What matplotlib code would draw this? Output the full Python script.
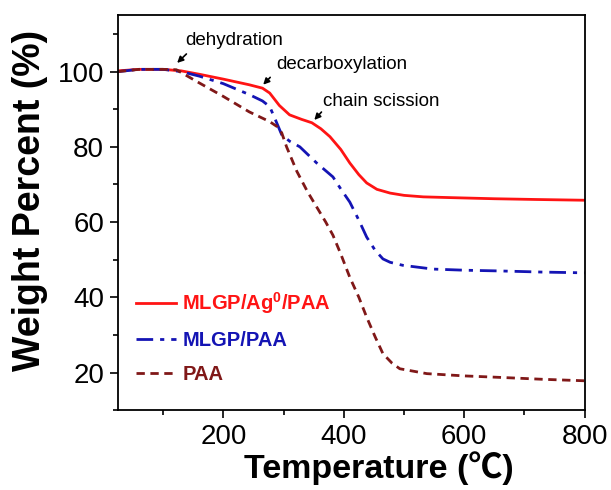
# TGA curves: weight percent vs temperature for three samples
import matplotlib.pyplot as plt
from matplotlib.ticker import MultipleLocator

plt.rcParams['font.family'] = ['Liberation Sans', 'Noto Sans CJK SC', 'DejaVu Sans']
plt.rcParams['mathtext.fontset'] = 'custom'
plt.rcParams['mathtext.rm'] = 'Liberation Sans'
plt.rcParams['mathtext.bf'] = 'Liberation Sans:bold'

# data
temp_ag = [25, 60, 100, 130, 160, 200, 243, 265, 277, 293, 310, 330, 347, 362, 377,
           395, 410, 425, 438, 455, 477, 500, 532, 577, 650, 720, 800]
wt_ag = [100.2, 100.6, 100.6, 100.2, 99.3, 98.0, 96.5, 95.6, 94.3, 91.0, 88.5, 87.3,
         86.4, 84.8, 82.7, 79.3, 75.7, 72.6, 70.4, 68.7, 67.7, 67.1, 66.7, 66.5, 66.2,
         66.0, 65.8]

temp_mlgp = [25, 60, 100, 130, 160, 200, 243, 265, 277, 287, 297, 310, 327, 355, 382,
             395, 410, 425, 438, 452, 465, 477, 498, 548, 600, 660, 730, 800]
wt_mlgp = [100.0, 100.6, 100.6, 100.0, 98.8, 96.8, 93.9, 92.2, 90.7, 87.0, 83.2, 81.5,
           80.0, 75.7, 72.0, 68.8, 65.3, 60.5, 56.0, 52.5, 50.2, 49.3, 48.5, 47.5, 47.2,
           47.0, 46.7, 46.5]

temp_paa = [25, 60, 100, 122, 160, 200, 243, 277, 290, 297, 305, 322, 340, 355, 370,
            382, 395, 410, 425, 438, 452, 465, 480, 493, 538, 600, 660, 730, 800]
wt_paa = [100.0, 100.6, 100.6, 100.5, 97.0, 93.4, 89.3, 86.7, 85.3, 83.7, 80.0, 73.5,
          68.0, 64.0, 60.0, 56.5, 51.5, 45.3, 40.0, 34.7, 29.5, 25.0, 22.5, 21.0, 19.7,
          19.1, 18.7, 18.2, 17.8]

labels = ['MLGP/Ag$^\\mathbf{0}$/PAA', 'MLGP/PAA', 'PAA']
colors = ['#ff1414', '#1414b4', '#801818']

# (text, text position, arrow tail, arrow tip)
notes = [('dehydration', (218, 108.3), (142, 105.2), (120, 101.8)),
         ('decarboxylation', (397, 101.9), (281, 99.0), (263, 96.0)),
         ('chain scission', (463, 92.0), (366, 89.8), (348, 86.6))]


fig = plt.figure(figsize=(6.11, 4.90), dpi=100)
ax = fig.add_axes([0.193, 0.163, 0.764, 0.806])

ax.plot(temp_ag, wt_ag, color=colors[0], lw=2.0, ls='-', label=labels[0])
ax.plot(temp_mlgp, wt_mlgp, color=colors[1], lw=2.0, ls=(0, (6, 2.5, 1.5, 2.5)), label=labels[1])
ax.plot(temp_paa, wt_paa, color=colors[2], lw=2.0, ls=(0, (3, 2)), label=labels[2])

for txt, pos, tail, tip in notes:
    ax.text(pos[0], pos[1], txt, fontsize=13.5, ha='center', va='center')
    ax.annotate('', xy=tip, xytext=tail,
                arrowprops=dict(arrowstyle='-|>', color='black', lw=1.2, mutation_scale=9))

ax.set_xlim(25, 800)
ax.set_ylim(10, 115)
ax.xaxis.set_major_locator(MultipleLocator(200))
ax.xaxis.set_minor_locator(MultipleLocator(100))
ax.yaxis.set_major_locator(MultipleLocator(20))
ax.yaxis.set_minor_locator(MultipleLocator(10))
ax.tick_params(which='both', direction='out', top=False, right=False, width=1.2)
ax.tick_params(which='major', length=6, labelsize=20, pad=4)
ax.tick_params(which='minor', length=3.5)
for s in ax.spines.values():
    s.set_linewidth(1.3)

ax.set_xlabel('Temperature (℃)', fontsize=24.5, fontweight='bold')
ax.set_ylabel('Weight Percent (%)', fontsize=27, fontweight='bold')
ax.xaxis.set_label_coords(0.559, -0.105)
ax.yaxis.set_label_coords(-0.15, 0.53)

leg = ax.legend(loc='lower left', bbox_to_anchor=(0.0, 0.02), frameon=False,
                handlelength=2.0, handletextpad=0.3, labelspacing=0.75,
                prop={'size': 14.5, 'weight': 'bold'})
for t, c in zip(leg.get_texts(), colors):
    t.set_color(c)

fig.savefig('out.png', dpi=100)
